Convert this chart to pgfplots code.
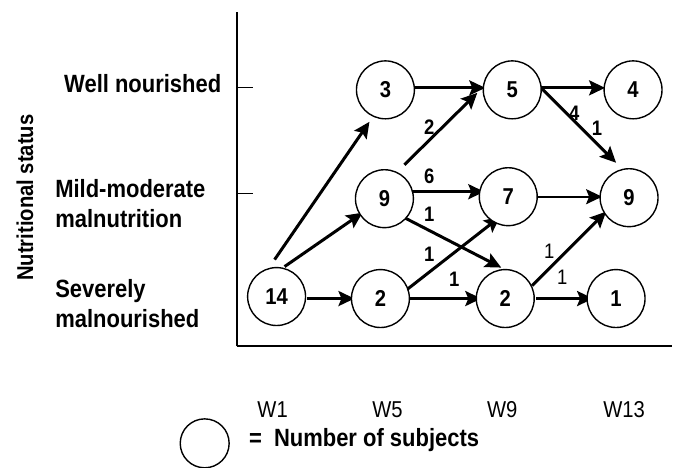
\documentclass[border=0pt]{standalone}
\usepackage{fontspec}
\setmainfont{Liberation Sans}[FakeStretch=0.88]
\usepackage{pgfplots}
\pgfplotsset{compat=1.18}
\usetikzlibrary{arrows.meta}
\begin{document}
\begin{tikzpicture}[
  arr/.style={-{Stealth[length=8pt,width=7.5pt,inset=1.5pt]}, line width=1.5pt, black},
  elab/.style={font=\fontsize{10.5}{12}\selectfont\bfseries, inner sep=0pt},
  elabr/.style={font=\fontsize{10.5}{12}\selectfont, inner sep=0pt},
  ylab/.style={font=\fontsize{12.5}{14}\selectfont\bfseries, inner sep=0pt}
]
\begin{axis}[
  scale only axis,
  width=218pt, height=167.5pt,
  xmin=0, xmax=436, ymin=0, ymax=335,
  axis x line=bottom, axis y line=left,
  axis line style={-, line width=1pt},
  clip=false,
  xtick={36,151,266,388},
  xticklabels={W1,W5,W9,W13},
  xtick style={draw=none},
  xticklabel style={anchor=center, yshift=-31.5pt, font=\fontsize{11.5}{13}\selectfont},
  ytick={153,259},
  yticklabels={},
  ytick style={line width=0.6pt, black},
  tick align=inside,
  major tick length=8pt,
]
% bounding box of the whole figure
\path (axis cs:-237,-119) rectangle (axis cs:436,347);

% transitions
\addplot[arr] coordinates {(38,87) (133,225)};
\addplot[arr] coordinates {(48,80) (126,134)};
\addplot[arr] coordinates {(70,48) (118,48)};
\addplot[arr] coordinates {(178,259) (249,259)};
\addplot[arr] coordinates {(168,182) (241,254)};
\addplot[arr] coordinates {(176,155) (248,155)};
\addplot[arr] coordinates {(168,129) (265,79)};
\addplot[arr] coordinates {(168,55) (264,130)};
\addplot[arr] coordinates {(173,48) (245,48)};
\addplot[arr] coordinates {(305,259) (369,259)};
\addplot[arr] coordinates {(305,259) (380,184)};
\addplot[arr, line width=1.1pt] coordinates {(296,150) (366,150)};
\addplot[arr] coordinates {(296,61) (370,135)};
\addplot[arr] coordinates {(300,48) (357,48)};

% states (number of subjects)
\addplot[only marks, mark=*, mark size=14.5pt,
  mark options={fill=white, draw=black, line width=0.7pt},
  nodes near coords, point meta=explicit symbolic,
  every node near coord/.append style={anchor=center, inner sep=0pt,
    font=\fontsize{11.5}{13}\selectfont\bfseries}]
  table[meta=n] {
x y n
40 50 14
149 257 3
148 148 9
144 48 2
276 257 5
272 150 7
269 48 2
397 257 4
393 149 9
380 48 1
};

% legend circle
\addplot[only marks, mark=*, mark size=12.25pt,
  mark options={fill=white, draw=black, line width=0.7pt}]
  coordinates {(-32,-97)};
\node[anchor=west, font=\fontsize{12.5}{14}\selectfont\bfseries, inner sep=0pt]
  at (axis cs:12,-94) {=\ \ Number of subjects};

% transition counts
\node[elab] at (axis cs:193,220) {2};
\node[elab] at (axis cs:193,170) {6};
\node[elab] at (axis cs:193,132) {1};
\node[elab] at (axis cs:193,92) {1};
\node[elab] at (axis cs:218,67) {1};
\node[elab] at (axis cs:338,234) {4};
\node[elab] at (axis cs:361,219) {1};
\node[elabr] at (axis cs:313,95) {1};
\node[elabr] at (axis cs:326,69) {1};

% category labels
\node[ylab, anchor=base east] at (axis cs:-15,254) {Well nourished};
\node[ylab, anchor=base west] at (axis cs:-182,149) {Mild-moderate};
\node[ylab, anchor=base west] at (axis cs:-182,119) {malnutrition};
\node[ylab, anchor=base west] at (axis cs:-182,49) {Severely};
\node[ylab, anchor=base west] at (axis cs:-182,19) {malnourished};
\node[ylab, rotate=90, anchor=center, font=\fontsize{11.5}{13}\selectfont\bfseries]
  at (axis cs:-212,149) {Nutritional status};
\end{axis}
\end{tikzpicture}
\end{document}
